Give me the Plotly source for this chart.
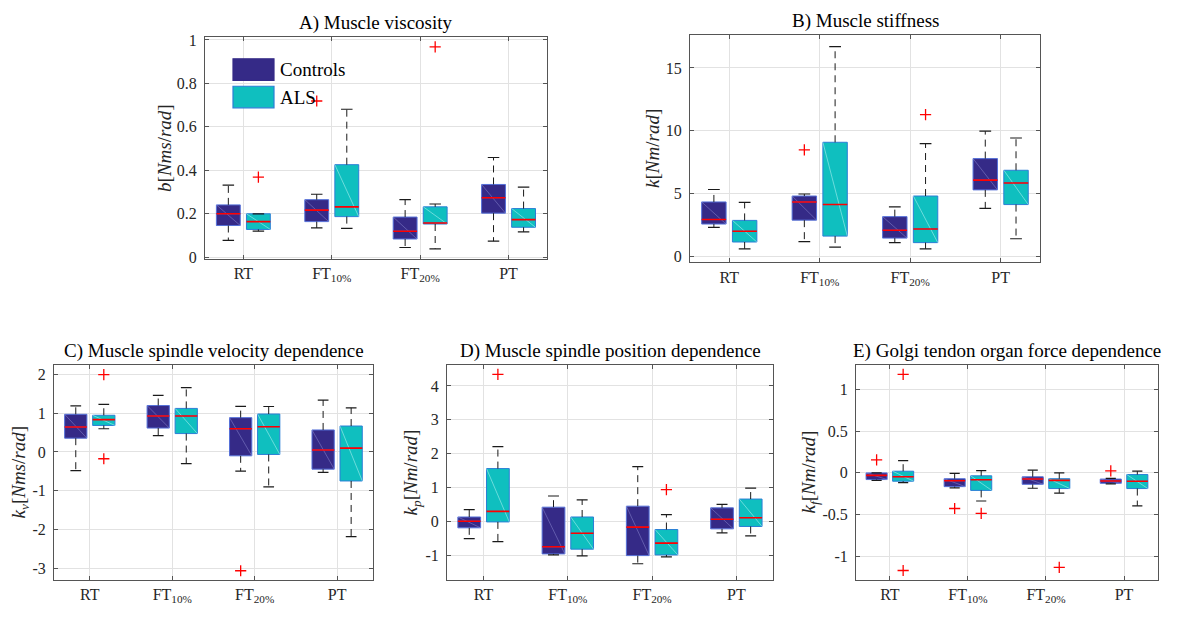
import plotly.graph_objects as go

W, H = 1178, 617

# ---------------- data ----------------
categories = ["RT", "FT10%", "FT20%", "PT"]
cat_ticktext = ["RT", "FT<sub>10%</sub>", "FT<sub>20%</sub>", "PT"]
cat_pos = [1, 2, 3, 4]
groups = ["Controls", "ALS"]

# each row: [lower whisker, q1, median, q3, upper whisker] for RT, FT10%, FT20%, PT
visc_ctrl = [[0.078, 0.146, 0.200, 0.241, 0.332],
             [0.135, 0.164, 0.217, 0.265, 0.290],
             [0.045, 0.084, 0.120, 0.185, 0.265],
             [0.074, 0.203, 0.274, 0.335, 0.459]]
visc_als = [[0.120, 0.128, 0.164, 0.200, 0.200],
            [0.133, 0.187, 0.232, 0.426, 0.681],
            [0.039, 0.153, 0.158, 0.232, 0.245],
            [0.117, 0.138, 0.173, 0.224, 0.323]]
visc_ctrl_out = [(2, 0.719)]
visc_als_out = [(1, 0.369), (3, 0.968)]

stiff_ctrl = [[2.31, 2.57, 2.93, 4.33, 5.32],
              [1.17, 2.88, 4.33, 4.80, 4.96],
              [1.09, 1.45, 2.07, 3.16, 3.94],
              [3.81, 5.29, 6.07, 7.78, 9.96]]
stiff_als = [[0.60, 1.14, 2.00, 2.86, 4.30],
             [0.73, 1.61, 4.12, 9.08, 16.70],
             [0.60, 1.09, 2.18, 4.80, 8.97],
             [1.40, 4.12, 5.84, 6.85, 9.42]]
stiff_ctrl_out = [(2, 8.48)]
stiff_als_out = [(3, 11.28)]

kv_ctrl = [[-0.48, 0.356, 0.644, 0.973, 1.19],
           [0.42, 0.617, 0.93, 1.20, 1.46],
           [-0.495, -0.10, 0.60, 0.887, 1.18],
           [-0.53, -0.445, 0.052, 0.568, 1.34]]
kv_als = [[0.60, 0.685, 0.836, 0.948, 1.23],
          [-0.30, 0.475, 0.93, 1.125, 1.66],
          [-0.90, -0.065, 0.65, 0.98, 1.175],
          [-2.19, -0.75, 0.10, 0.67, 1.14]]
kv_ctrl_out = [(3, -3.07)]
kv_als_out = [(1, 2.0), (1, -0.176)]

kp_ctrl = [[-0.51, -0.19, 0.005, 0.13, 0.35],
           [-0.99, -0.96, -0.75, 0.42, 0.75],
           [-1.25, -1.01, -0.17, 0.45, 1.62],
           [-0.34, -0.22, 0.063, 0.40, 0.50]]
kp_als = [[-0.60, -0.015, 0.295, 1.56, 2.21],
          [-1.02, -0.82, -0.35, 0.13, 0.635],
          [-1.05, -0.99, -0.64, -0.24, 0.20],
          [-0.43, -0.15, 0.11, 0.66, 0.98]]
kp_ctrl_out = []
kp_als_out = [(1, 4.34), (3, 0.94)]

kf_ctrl = [[-0.09, -0.08, -0.03, 0.0, 0.0],
           [-0.18, -0.165, -0.094, -0.07, -0.007],
           [-0.184, -0.137, -0.074, -0.047, 0.032],
           [-0.133, -0.125, -0.098, -0.074, -0.066]]
kf_als = [[-0.118, -0.10, -0.047, 0.02, 0.146],
          [-0.337, -0.21, -0.082, -0.035, 0.028],
          [-0.242, -0.188, -0.09, -0.07, 0.0],
          [-0.395, -0.188, -0.10, -0.02, 0.02]]
kf_ctrl_out = [(1, 0.157), (2, -0.427), (4, 0.024)]
kf_als_out = [(1, 1.18), (1, -1.17), (2, -0.486), (3, -1.133)]

# ---------------- style ----------------
FONT = "Liberation Serif"
TXT = "#262626"
CTRL_FILL, CTRL_LINE, CTRL_DIAG = "#352a87", "#5570d8", "rgba(170,170,235,0.55)"
ALS_FILL, ALS_LINE, ALS_DIAG = "#0fbfbf", "#2b7fd6", "rgba(190,245,245,0.75)"
BOX_W, CAP_W, OFFSET = 0.27, 0.13, 0.17
XRANGE = [0.566, 4.435]

panels = [
    dict(ctrl=visc_ctrl, als=visc_als, ctrl_out=visc_ctrl_out, als_out=visc_als_out,
         yr=[-0.006, 1.012], yt=[0, 0.2, 0.4, 0.6, 0.8, 1],
         title="A) Muscle viscosity", ylab="<i>b</i>[<i>Nms</i>/<i>rad</i>]",
         px=(205, 547), py=(32, 258), lab_gap=40),
    dict(ctrl=stiff_ctrl, als=stiff_als, ctrl_out=stiff_ctrl_out, als_out=stiff_als_out,
         yr=[-0.49, 17.59], yt=[0, 5, 10, 15],
         title="B) Muscle stiffness", ylab="<i>k</i>[<i>Nm</i>/<i>rad</i>]",
         px=(690, 1040), py=(30, 262), lab_gap=37),
    dict(ctrl=kv_ctrl, als=kv_als, ctrl_out=kv_ctrl_out, als_out=kv_als_out,
         yr=[-3.30, 2.24], yt=[-3, -2, -1, 0, 1, 2],
         title="C) Muscle spindle velocity dependence",
         ylab="<i>k<sub>v</sub></i>[<i>Nms</i>/<i>rad</i>]",
         px=(54, 373), py=(367, 586), lab_gap=34),
    dict(ctrl=kp_ctrl, als=kp_als, ctrl_out=kp_ctrl_out, als_out=kp_als_out,
         yr=[-1.72, 4.61], yt=[-1, 0, 1, 2, 3, 4],
         title="D) Muscle spindle position dependence",
         ylab="<i>k<sub>p</sub></i>[<i>Nm</i>/<i>rad</i>]",
         px=(447, 773), py=(367, 586), lab_gap=35),
    dict(ctrl=kf_ctrl, als=kf_als, ctrl_out=kf_ctrl_out, als_out=kf_als_out,
         yr=[-1.28, 1.29], yt=[-1, -0.5, 0, 0.5, 1],
         title="E) Golgi tendon organ force dependence",
         ylab="<i>k<sub>f</sub></i>[<i>Nm</i>/<i>rad</i>]",
         px=(856, 1158), py=(367, 586), lab_gap=46),
]

fig = go.Figure()
annotations = []
shapes = []
layout_axes = {}

for i, p in enumerate(panels, start=1):
    xa = "x" if i == 1 else f"x{i}"
    ya = "y" if i == 1 else f"y{i}"
    series = [(p["ctrl"], p["ctrl_out"], -OFFSET, CTRL_FILL, CTRL_LINE, CTRL_DIAG),
              (p["als"], p["als_out"], OFFSET, ALS_FILL, ALS_LINE, ALS_DIAG)]
    for stats, outs, off, fill, line, diag in series:
        pos = [c + off for c in cat_pos]
        lo = [s[0] for s in stats]
        q1 = [s[1] for s in stats]
        med = [s[2] for s in stats]
        q3 = [s[3] for s in stats]
        hi = [s[4] for s in stats]
        wx, wy = [], []
        for k in range(len(pos)):
            wx += [pos[k], pos[k], None, pos[k], pos[k], None]
            wy += [q3[k], hi[k], None, q1[k], lo[k], None]
        fig.add_trace(go.Scatter(x=wx, y=wy, mode="lines", xaxis=xa, yaxis=ya,
                                 line=dict(color="#1a1a1a", width=1, dash="7px,5px"),
                                 showlegend=False, hoverinfo="skip"))
        cx, cy = [], []
        for k in range(len(pos)):
            cx += [pos[k] - CAP_W / 2, pos[k] + CAP_W / 2, None,
                   pos[k] - CAP_W / 2, pos[k] + CAP_W / 2, None]
            cy += [hi[k], hi[k], None, lo[k], lo[k], None]
        fig.add_trace(go.Scatter(x=cx, y=cy, mode="lines", xaxis=xa, yaxis=ya,
                                 line=dict(color="#1a1a1a", width=1.2),
                                 showlegend=False, hoverinfo="skip"))
        fig.add_trace(go.Box(x=pos, q1=q1, median=med, q3=q3, lowerfence=q1,
                             upperfence=q3, width=BOX_W, whiskerwidth=0,
                             fillcolor=fill, line=dict(color=line, width=1),
                             boxpoints=False, xaxis=xa, yaxis=ya,
                             showlegend=False, hoverinfo="skip"))
        dx, dy = [], []
        for k in range(len(pos)):
            dx += [pos[k] - BOX_W / 2, pos[k] + BOX_W / 2, None]
            dy += [q3[k], q1[k], None]
        fig.add_trace(go.Scatter(x=dx, y=dy, mode="lines", xaxis=xa, yaxis=ya,
                                 line=dict(color=diag, width=0.7),
                                 showlegend=False, hoverinfo="skip"))
        mx, my = [], []
        for k in range(len(pos)):
            mx += [pos[k] - BOX_W / 2, pos[k] + BOX_W / 2, None]
            my += [med[k], med[k], None]
        fig.add_trace(go.Scatter(x=mx, y=my, mode="lines", xaxis=xa, yaxis=ya,
                                 line=dict(color="#ff0000", width=1.6),
                                 showlegend=False, hoverinfo="skip"))
        if outs:
            fig.add_trace(go.Scatter(x=[cat_pos[c - 1] + off for c, _ in outs],
                                     y=[v for _, v in outs], mode="markers",
                                     xaxis=xa, yaxis=ya,
                                     marker=dict(symbol="cross-thin", size=8,
                                                 line=dict(color="#ff0000", width=1.3)),
                                     showlegend=False, hoverinfo="skip"))

    xdom = [p["px"][0] / W, p["px"][1] / W]
    ydom = [1 - p["py"][1] / H, 1 - p["py"][0] / H]
    axis_common = dict(showline=True, linecolor="#555555", linewidth=1, mirror="ticks",
                       ticks="inside", ticklen=4, tickcolor="#555555",
                       showgrid=True, gridcolor="#e2e2e2", gridwidth=1, zeroline=False,
                       tickfont=dict(family=FONT, size=16, color=TXT), fixedrange=True)
    layout_axes["xaxis" if i == 1 else f"xaxis{i}"] = dict(
        axis_common, domain=xdom, range=XRANGE, tickvals=cat_pos, ticktext=cat_ticktext,
        anchor=ya)
    layout_axes["yaxis" if i == 1 else f"yaxis{i}"] = dict(
        axis_common, domain=ydom, range=p["yr"], tickvals=p["yt"],
        ticktext=[f"{v:g}" for v in p["yt"]], anchor=xa, ticklabelstandoff=4)

    dref = "x domain" if i == 1 else f"x{i} domain"
    yref = "y domain" if i == 1 else f"y{i} domain"
    annotations.append(dict(text=p["title"], xref=dref, yref=yref, x=0.5, y=1,
                            xanchor="center", yanchor="bottom", yshift=1, showarrow=False,
                            font=dict(family=FONT, size=19, color="#000000")))
    annotations.append(dict(text=p["ylab"], xref=dref, yref=yref, x=0, y=0.5,
                            xanchor="center", yanchor="middle", xshift=-p["lab_gap"],
                            textangle=-90, showarrow=False,
                            font=dict(family=FONT, size=19, color=TXT)))

legend_items = [(groups[0], CTRL_FILL, CTRL_FILL, (54, 76)),
                (groups[1], ALS_FILL, ALS_LINE, (82, 104))]
for name, fill, line, (t, b) in legend_items:
    shapes.append(dict(type="rect", xref="paper", yref="paper",
                       x0=233 / W, x1=274 / W, y0=1 - b / H, y1=1 - t / H,
                       fillcolor=fill, line=dict(color=line, width=1.2)))
    annotations.append(dict(text=name, xref="paper", yref="paper", x=278 / W,
                            y=1 - (t + b) / 2 / H, xanchor="left", yanchor="middle",
                            showarrow=False, font=dict(family=FONT, size=19, color="#000000")))

fig.update_layout(width=W, height=H, autosize=False,
                  margin=dict(l=0, r=0, t=0, b=0),
                  paper_bgcolor="white", plot_bgcolor="white",
                  font=dict(family=FONT, color=TXT),
                  annotations=annotations, shapes=shapes, showlegend=False,
                  boxmode="overlay", **layout_axes)

fig.write_html("out.html")
